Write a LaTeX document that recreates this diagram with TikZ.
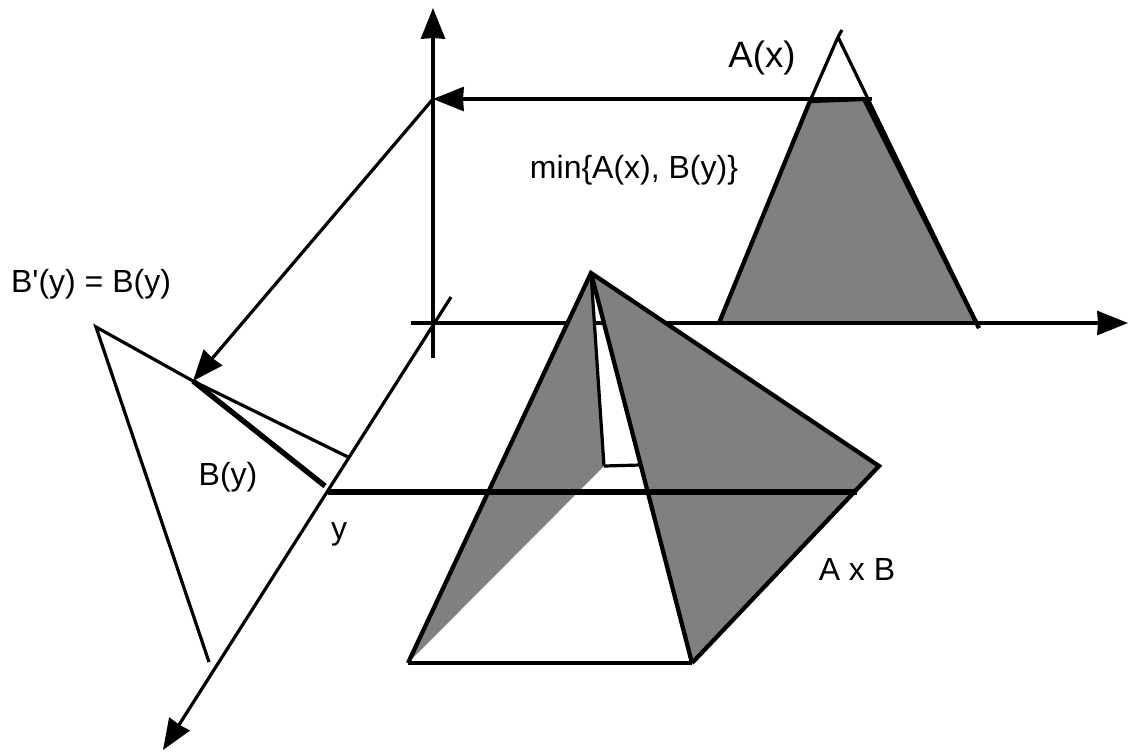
\documentclass[tikz,border=0pt]{standalone}
\usepackage{fontspec}
\setmainfont{Liberation Sans}
\usetikzlibrary{arrows.meta,positioning,calc}

\begin{document}
\begin{tikzpicture}[x=0.75pt,y=-0.75pt,>={Stealth[length=23pt,width=18pt,inset=0.5pt]},
 thin line/.style={line width=2.4pt},
 face line/.style={line width=3.2pt},
 cut line/.style={line width=4.2pt},
 shade/.style={fill=black!50,draw=none},
 lab/.style={font=\fontsize{24}{28}\selectfont,inner sep=0pt},
 biglab/.style={font=\fontsize{27.5}{32}\selectfont,inner sep=0pt}]
\useasboundingbox (0,0) rectangle (1128,751);
% axes
\coordinate (o) at (433,323);
\coordinate (zlow) at (433,358);
\coordinate (ztop) at (433,8);
\coordinate (xlow) at (411,323);
\coordinate (xtop) at (1128,323);
\coordinate (ylow) at (451,297);
\coordinate (ytop) at (163,750);
\coordinate (lev) at (433,99);
\draw[thin line,->] (zlow) -- (ztop);
\draw[thin line,->] (xlow) -- (xtop);
\draw[thin line,->] (ylow) -- (ytop);
% A(x)
\coordinate (al) at (719,323);
\coordinate (ar) at (979,328);
\coordinate (ap) at (838,37);
\coordinate (atip) at (842,30);
\coordinate (tl) at (810,101);
\coordinate (tr) at (864,99);
\coordinate (levr) at (872,99);
\fill[shade] (al) -- (tl) -- (tr) -- (977,323) -- cycle;
\draw[thin line] (ap) -- (atip);
\draw[thin line] (ap) -- (ar);
\draw[face line] (al) -- (tl);
\draw[thin line] (tl) -- (ap);
\draw[face line] (tl) -- (tr);
\draw[face line] (tr) -- (ar);
\draw[thin line,->] (levr) -- (lev);
\draw[thin line] (al) -- (977,323);
% B(y)
\coordinate (bt) at (96,327);
\coordinate (bb) at (209,662);
\coordinate (bm) at (193,381);
\coordinate (be) at (348,457);
\coordinate (bc) at (325,486);
\draw[thin line] (bb) -- (bt) -- (bm) -- (be);
\draw[thin line,->] (lev) -- (bm);
\draw[line width=4pt] (bm) -- (bc);
% A x B
\coordinate (pa) at (591,273);
\coordinate (pb) at (604,466);
\coordinate (pl) at (408,663);
\coordinate (pr) at (692,663);
\coordinate (pe) at (879,466);
\coordinate (pc) at (640,465);
\fill[shade] (pa) -- (pb) -- (pl) -- cycle;
\fill[shade] (pa) -- (pe) -- (pr) -- cycle;
\draw[thin line] (pa) -- (pb);
\draw[thin line] (pb) -- (pc);
\draw[face line] (pl) -- (pa) -- (pe) -- (pr);
\draw[face line] (pa) -- (pr);
\draw[thin line] (pl) -- (pr);
\draw[cut line] (328,492) coordinate (cl) -- (857,492) coordinate (cr);
% labels
\node[biglab] (ax) at (762,58) {A(x)};
\node[lab] (mn) at (634,170) {min\{A(x), B(y)\}};
\node[lab] (bp) at (91,284) {B\textquotesingle(y) = B(y)};
\node[lab] (by) at (228,477) {B(y)};
\node[lab] (yy) at (339,534) {y};
\node[lab] (axb) at (857,569) {A x B};
\end{tikzpicture}
\end{document}
